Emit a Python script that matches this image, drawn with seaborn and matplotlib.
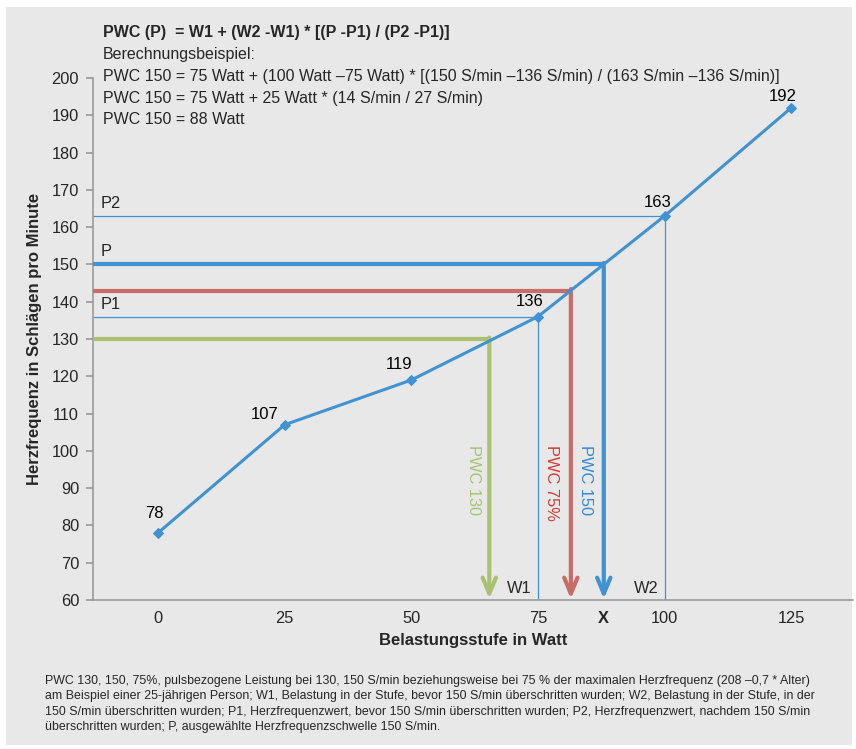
import matplotlib
matplotlib.use("Agg")
import matplotlib.pyplot as plt
import seaborn as sns
import pandas as pd
from matplotlib.patches import Rectangle

# ---- data ----
watt = [0, 25, 50, 75, 100, 125]
hr = [78, 107, 119, 136, 163, 192]
xtick_vals = [0, 25, 50, 75, 88, 100, 125]
xtick_labels = ["0", "25", "50", "75", "X", "100", "125"]
ytick_vals = list(range(60, 201, 10))

# reference lines
P1, P2, P, W1, W2 = 136, 163, 150, 75, 100
pwc_names = ["PWC 130", "PWC 75%", "PWC 150"]
pwc_hr = [130, 143, 150]
pwc_watt = [65.4, 81.5, 88]

formula_lines = [
    "PWC (P)  = W1 + (W2 -W1) * [(P -P1) / (P2 -P1)]",
    "Berechnungsbeispiel:",
    "PWC 150 = 75 Watt + (100 Watt \u201375 Watt) * [(150 S/min \u2013136 S/min) / (163 S/min \u2013136 S/min)]",
    "PWC 150 = 75 Watt + 25 Watt * (14 S/min / 27 S/min)",
    "PWC 150 = 88 Watt",
]
footnote = ("PWC 130, 150, 75%, pulsbezogene Leistung bei 130, 150 S/min beziehungsweise bei 75 % der maximalen Herzfrequenz (208 \u20130,7 * Alter)\n"
            "am Beispiel einer 25-j\u00e4hrigen Person; W1, Belastung in der Stufe, bevor 150 S/min \u00fcberschritten wurden; W2, Belastung in der Stufe, in der\n"
            "150 S/min \u00fcberschritten wurden; P1, Herzfrequenzwert, bevor 150 S/min \u00fcberschritten wurden; P2, Herzfrequenzwert, nachdem 150 S/min\n"
            "\u00fcberschritten wurden; P, ausgew\u00e4hlte Herzfrequenzschwelle 150 S/min.")

sns.set_theme(style="white")
plt.rcParams['font.family'] = ['Liberation Sans', 'DejaVu Sans']

BLUE = "#4192d2"
RED = "#c96b66"
GREEN = "#abc172"
TXT_COL = ["#a9c36f", "#d23a36", "#2f8ad6"]
BG = "#e8e8e8"

fig = plt.figure(figsize=(8.56, 7.49), dpi=100, facecolor="white")
fig.patches.append(Rectangle((6/856, 4/749), 846/856, 738/749, transform=fig.transFigure,
                             facecolor=BG, edgecolor="none", zorder=-10))
ax = fig.add_axes([93/856, 149/749, 760/856, 522/749])
ax.set_facecolor("none")
ax.set_zorder(1)

xmin, xmax = -12.84, 137.2
ax.set_xlim(xmin, xmax)
ax.set_ylim(60, 200)

df = pd.DataFrame({"watt": watt, "hr": hr})

# thin reference lines P1/W1, P2/W2
ax.hlines([P1, P2], xmin, [W1, W2], color=BLUE, lw=0.9, zorder=2)
ax.vlines([W1, W2], 60, [P1, P2], color=BLUE, lw=0.9, zorder=2)

# PWC lines with arrows
cols = [GREEN, RED, BLUE]
for name, yv, xv, c in zip(pwc_names, pwc_hr, pwc_watt, cols):
    ax.hlines(yv, xmin, xv, color=c, lw=3, zorder=3)
    ax.annotate("", xy=(xv, 60.3), xytext=(xv, yv + 0.4),
                arrowprops=dict(arrowstyle="->,head_width=0.4,head_length=0.95",
                                color=c, lw=3, shrinkA=0, shrinkB=0), zorder=3)

# data line
sns.lineplot(data=df, x="watt", y="hr", ax=ax, color=BLUE, lw=2.2, marker="D",
             markersize=5, markeredgecolor=BLUE, zorder=5)

# data labels (offsets in points from each point to label centre)
offsets = [(-2.9, 13.7), (-14.4, 7.4), (-8.6, 11.5), (-5.8, 10.8), (-5.0, 9.4), (-5.8, 7.9)]
for x, y, off in zip(watt, hr, offsets):
    ax.annotate(str(y), (x, y), xytext=off, textcoords="offset points",
                ha="center", va="center", fontsize=12, color="black")

# rotated PWC labels
lab_x = [62.3, 77.7, 84.4]
for name, lx, tc in zip(pwc_names, lab_x, TXT_COL):
    ax.text(lx, 101.5, name, rotation=270, ha="center", va="top", color=tc, fontsize=11.8)

# P labels
for lab, yv in zip(["P2", "P", "P1"], [P2, P, P1]):
    ax.annotate(lab, (-11.3, yv), xytext=(0, 9), textcoords="offset points",
                fontsize=11.8, va="center", ha="left")
ax.text(W1 - 1.2, 61, "W1", fontsize=11.8, va="bottom", ha="right")
ax.text(W2 - 1.2, 61, "W2", fontsize=11.8, va="bottom", ha="right")

# axes styling
for s in ["top", "right"]:
    ax.spines[s].set_visible(False)
for s in ["left", "bottom"]:
    ax.spines[s].set_color("#9a9a9a")
    ax.spines[s].set_linewidth(1.2)
ax.set_xticks(xtick_vals)
ax.set_xticklabels(xtick_labels, fontsize=11.8)
ax.get_xticklabels()[4].set_fontweight("bold")
ax.set_yticks(ytick_vals)
ax.set_yticklabels([str(v) for v in ytick_vals], fontsize=11.8)
ax.tick_params(axis="y", length=5, color="#9a9a9a", left=True, pad=5)
ax.tick_params(axis="x", length=0, pad=8)
ax.set_xlabel("Belastungsstufe in Watt", fontsize=12, fontweight="bold", labelpad=5)
ax.set_ylabel("Herzfrequenz in Schl\u00e4gen pro Minute", fontsize=12, fontweight="bold", labelpad=7)
ax.grid(False)

# formula text
ytop = 32
for i, line in enumerate(formula_lines):
    fig.text(103/856, 1 - (ytop + i*22)/749, line, fontsize=11.5, va="center", ha="left",
             fontweight="bold" if i == 0 else "normal")

fig.text(45/856, 1 - 704/749, footnote, fontsize=8.9, va="center", ha="left", linespacing=1.35)

fig.savefig("out.png", dpi=100, facecolor=fig.get_facecolor())
